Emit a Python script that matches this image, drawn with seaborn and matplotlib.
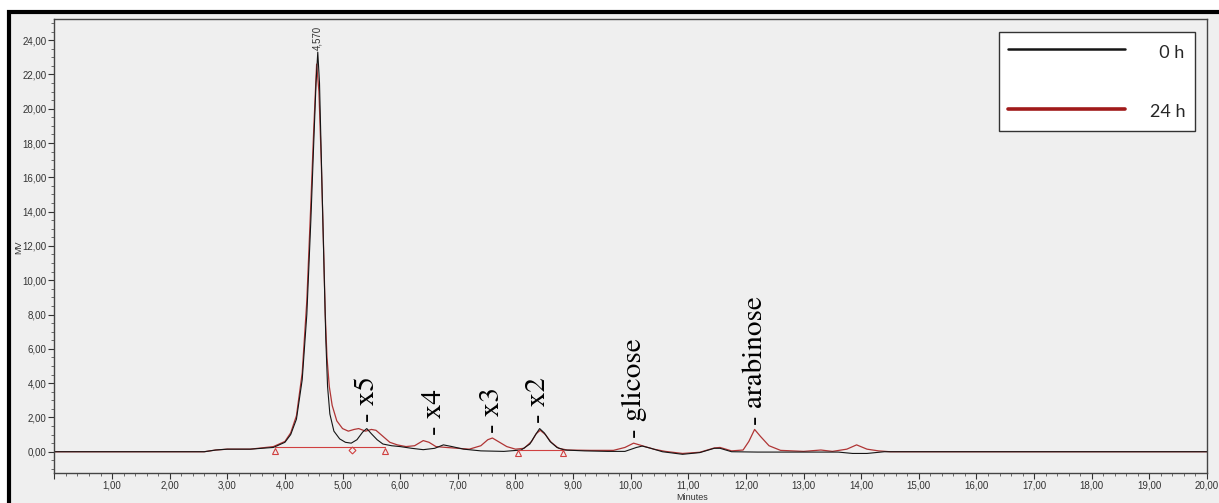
import pandas as pd
import matplotlib
matplotlib.use("Agg")
import matplotlib.pyplot as plt
from matplotlib.lines import Line2D
from matplotlib.patches import Rectangle
from matplotlib.ticker import MultipleLocator, FuncFormatter
import seaborn as sns

# =========================
# Dados lidos do cromatograma (tempo em min, sinal em mV)
# =========================
tempo_0h = [0.0, 2.6, 2.8, 3.0, 3.4, 3.8, 4.0, 4.1, 4.2, 4.3, 4.38, 4.45, 4.5, 4.54,
            4.57, 4.6, 4.64, 4.68, 4.71, 4.74, 4.78, 4.85, 4.95, 5.05, 5.15, 5.25,
            5.35, 5.42, 5.5, 5.6, 5.7, 5.85, 6.0, 6.2, 6.4, 6.6, 6.75, 6.9, 7.1, 7.4,
            7.8, 8.1, 8.25, 8.35, 8.42, 8.5, 8.6, 8.72, 8.85, 9.2, 9.6, 9.9, 10.1,
            10.2, 10.35, 10.55, 10.9, 11.2, 11.45, 11.55, 11.75, 12.2, 13.0, 13.6,
            13.85, 14.1, 14.4, 20.0]
sinal_0h = [0.0, 0.0, 0.1, 0.15, 0.15, 0.25, 0.55, 1.0, 1.9, 4.2, 8.0, 13.5, 18.0, 21.5,
            23.3, 21.5, 16.0, 10.5, 6.5, 3.8, 2.2, 1.2, 0.75, 0.55, 0.5, 0.7,
            1.15, 1.35, 1.05, 0.7, 0.45, 0.35, 0.3, 0.2, 0.12, 0.2, 0.4, 0.3, 0.15, 0.05,
            0.02, 0.1, 0.45, 1.0, 1.35, 1.1, 0.6, 0.25, 0.1, 0.05, 0.02, 0.02, 0.25,
            0.33, 0.2, 0.0, -0.15, -0.05, 0.2, 0.2, 0.0, -0.02, -0.02, -0.02,
            -0.1, -0.1, 0.0, 0.0]

tempo_24h = [0.0, 2.6, 2.8, 3.0, 3.4, 3.8, 4.0, 4.1, 4.2, 4.3, 4.38, 4.45, 4.5, 4.55,
             4.59, 4.63, 4.67, 4.7, 4.73, 4.77, 4.82, 4.9, 5.0, 5.1, 5.2, 5.28, 5.4,
             5.5, 5.58, 5.7, 5.82, 5.95, 6.1, 6.25, 6.4, 6.5, 6.62, 6.8, 7.0, 7.2,
             7.4, 7.52, 7.6, 7.7, 7.85, 8.0, 8.15, 8.28, 8.36, 8.43, 8.52, 8.62,
             8.75, 8.9, 9.3, 9.7, 9.9, 10.05, 10.2, 10.4, 10.6, 10.9, 11.2, 11.45,
             11.55, 11.75, 11.95, 12.05, 12.15, 12.25, 12.4, 12.6, 13.0, 13.3, 13.5,
             13.75, 13.92, 14.1, 14.3, 14.5, 20.0]
sinal_24h = [0.0, 0.0, 0.1, 0.15, 0.15, 0.3, 0.6, 1.1, 2.1, 4.6, 8.8, 14.5, 18.8, 22.6,
             21.0, 17.0, 12.0, 8.0, 5.5, 3.8, 2.7, 1.8, 1.35, 1.2, 1.3, 1.35, 1.2,
             1.3, 1.25, 0.9, 0.55, 0.4, 0.3, 0.35, 0.65, 0.55, 0.3, 0.25, 0.2, 0.15,
             0.35, 0.7, 0.8, 0.6, 0.3, 0.15, 0.2, 0.6, 1.05, 1.25, 1.0, 0.55,
             0.2, 0.1, 0.08, 0.08, 0.25, 0.5, 0.35, 0.15, 0.02, -0.1, -0.03, 0.22,
             0.25, 0.05, 0.1, 0.6, 1.3, 0.9, 0.35, 0.08, 0.02, 0.1, 0.02,
             0.15, 0.4, 0.15, 0.05, 0.0, 0.0]

# linhas de base da integracao
base1_t = [3.83, 5.73]
base1_v = [0.30, 0.30]
base2_t = [8.04, 8.82]
base2_v = [0.10, 0.10]
triang_t = [3.83, 5.73, 8.04, 8.82]
triang_v = [0.05, 0.05, -0.10, -0.10]
losango_t = [5.16]
losango_v = [0.10]

# identificacao dos picos
picos_nome = ["x5", "x4", "x3", "x2", "glicose", "arabinose"]
picos_t = [5.42, 6.58, 7.59, 8.39, 10.05, 12.15]
picos_v = [1.75, 0.97, 1.07, 1.69, 0.78, 1.56]

pico_principal_t = 4.57
pico_principal_v = 23.4
pico_principal_txt = "4,570"

# =========================
# Figura
# =========================
sns.set_style("ticks")
plt.rcParams["font.family"] = ["Liberation Sans", "DejaVu Sans"]

W, H = 1219, 503
fig = plt.figure(figsize=(W / 100, H / 100), dpi=100, facecolor="white")
fig.patches.append(Rectangle((9 / W, -0.05), 1.2, 1 - 11.5 / H + 0.05,
                             transform=fig.transFigure, facecolor="#efefef",
                             edgecolor="black", lw=3, zorder=-5))
ax = fig.add_axes([54.4 / W, 1 - 473 / H, (1207 - 54.4) / W, (473 - 19) / H])
ax.set_facecolor("#efefef")

vermelho = "#b03535"
df24 = pd.DataFrame({"tempo": tempo_24h, "sinal": sinal_24h})
df0 = pd.DataFrame({"tempo": tempo_0h, "sinal": sinal_0h})
sns.lineplot(data=df24, x="tempo", y="sinal", color=vermelho, lw=0.9, ax=ax)
sns.lineplot(data=df0, x="tempo", y="sinal", color="#151515", lw=0.8, ax=ax)

ax.plot(base1_t, base1_v, color="#d04040", lw=0.8)
ax.plot(base2_t, base2_v, color="#d04040", lw=0.8)
ax.plot(triang_t, triang_v, ls="none", marker="^", ms=5, mfc="none",
        mec="#d04040", mew=0.8)
ax.plot(losango_t, losango_v, ls="none", marker="D", ms=3.5, mfc="none",
        mec="#d04040", mew=0.8)

# rotulos dos picos (fonte tipo Times)
for nome, t, v in zip(picos_nome, picos_t, picos_v):
    ax.annotate("- " + nome, xy=(t, v), xytext=(5, 0), textcoords="offset points",
                rotation=90, rotation_mode="anchor", ha="left", va="baseline",
                fontsize=21, fontfamily="STIXGeneral", color="black")

ax.text(pico_principal_t, pico_principal_v, pico_principal_txt, rotation=90,
        ha="center", va="bottom", fontsize=7, color="#333333")

# eixos
virgula = FuncFormatter(lambda v, p: "" if abs(v) < 1e-9 else f"{v:.2f}".replace(".", ","))
ax.set_xlim(0, 20)
ax.set_ylim(-1.24, 25.23)
ax.xaxis.set_major_locator(MultipleLocator(1))
ax.xaxis.set_minor_locator(MultipleLocator(0.2))
ax.yaxis.set_major_locator(MultipleLocator(2))
ax.yaxis.set_minor_locator(MultipleLocator(0.5))
ax.xaxis.set_major_formatter(virgula)
ax.yaxis.set_major_formatter(FuncFormatter(lambda v, p: f"{v:.2f}".replace(".", ",").replace("-0,00", "0,00")))
ax.tick_params(axis="both", which="major", direction="out", length=4, width=0.8,
               labelsize=7, labelcolor="#333333", color="#333333", pad=1.5)
ax.tick_params(axis="both", which="minor", direction="out", length=2, width=0.6,
               color="#555555")
ax.set_xlabel("")
ax.set_ylabel("")
for s in ax.spines.values():
    s.set_color("#444444")
    s.set_linewidth(1.0)

fig.text(692 / W, 1 - 497 / H, "Minutes", fontsize=6.5, color="#333333",
         ha="center", va="center")
fig.text(19 / W, 1 - 247 / H, "MV", fontsize=6.5, color="#333333",
         ha="center", va="center", rotation=90)

# legenda
handles = [Line2D([], [], color="#151515", lw=1.8),
           Line2D([], [], color="#a01a1a", lw=2.6)]
leg = ax.legend(handles, ["  0 h", "24 h"], loc="upper right",
                bbox_to_anchor=(1195 / W, 1 - 32 / H), bbox_transform=fig.transFigure,
                frameon=True, fancybox=False, facecolor="white", edgecolor="#333333",
                framealpha=1, prop={"family": ["Lato", "DejaVu Sans"], "size": 13},
                handlelength=6.5, handletextpad=1.4, handleheight=1.44,
                labelspacing=2.1, borderpad=0.5, borderaxespad=0)
leg.get_frame().set_linewidth(1.0)

fig.savefig("out.png", dpi=100, facecolor=fig.get_facecolor())
